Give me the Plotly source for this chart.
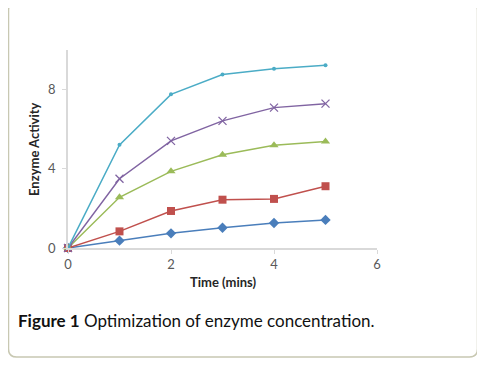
import plotly.graph_objects as go

time_mins = [0, 1, 2, 3, 4, 5]
series_names = ["Series 1", "Series 2", "Series 3", "Series 4", "Series 5"]
s1 = [0, 0.37, 0.74, 1.02, 1.26, 1.42]
s2 = [0, 0.84, 1.87, 2.44, 2.48, 3.12]
s3 = [0, 2.56, 3.87, 4.71, 5.19, 5.38]
s4 = [0, 3.50, 5.41, 6.42, 7.09, 7.29]
s5 = [0, 5.21, 7.76, 8.76, 9.05, 9.23]
x_ticks = [0, 2, 4, 6]
y_ticks = [0, 4, 8]

colors = ["#4A7EBB", "#C0504D", "#9BBB59", "#8064A2", "#4BACC6"]
markers = [
    dict(symbol="diamond", size=8),
    dict(symbol="square", size=8),
    dict(symbol="triangle-up", size=8),
    dict(symbol="x-thin-open", size=8, line=dict(width=1.3)),
    dict(symbol="circle", size=4),
]

fig = go.Figure()
for name, ys, c, m in zip(series_names, [s1, s2, s3, s4, s5], colors, markers):
    mk = dict(color=c, **m)
    if "line" in mk:
        mk["line"] = dict(color=c, width=m["line"]["width"])
    fig.add_trace(go.Scatter(x=time_mins, y=ys, mode="lines+markers", name=name,
                             line=dict(color=c, width=1.5), marker=mk,
                             cliponaxis=False))

# page has an 8px body margin; work in page pixel coordinates and offset
OFF = 8
W, H = 485 - OFF, 365 - OFF
L = 68 - OFF
T = 50 - OFF
R = W - (377 - OFF)
B = H - (248 - OFF)
pw, ph = W - L - R, H - T - B

def px(x):
    return (x - OFF - L) / pw

def py(y):
    return (H - B - (y - OFF)) / ph

# rounded border box (page pixel coords)
x0, x1, y0, y1, r = 8.5, 477.5, 2.5, 357, 8
path = (f"M {px(x0+r)},{py(y0)} L {px(x1-r)},{py(y0)} Q {px(x1)},{py(y0)} {px(x1)},{py(y0+r)} "
        f"L {px(x1)},{py(y1-r)} Q {px(x1)},{py(y1)} {px(x1-r)},{py(y1)} "
        f"L {px(x0+r)},{py(y1)} Q {px(x0)},{py(y1)} {px(x0)},{py(y1-r)} "
        f"L {px(x0)},{py(y0+r)} Q {px(x0)},{py(y0)} {px(x0+r)},{py(y0)} Z")

font_fam = "Lato, 'Open Sans', sans-serif"
fig.update_layout(
    width=W, height=H,
    margin=dict(l=L, r=R, t=T, b=B),
    paper_bgcolor="white", plot_bgcolor="white",
    showlegend=False,
    font=dict(family=font_fam, color="#595959", size=12),
    shapes=[dict(type="path", path=path, xref="paper", yref="paper",
                 line=dict(color="#C8C8B2", width=1.5), layer="below")],
    annotations=[
        dict(text="<b>Time (mins)</b>", x=px(223), y=py(282), xref="paper", yref="paper",
             xanchor="center", yanchor="middle",
             showarrow=False, font=dict(size=13, color="#262626", family=font_fam)),
        dict(text="<b>Enzyme Activity</b>", x=px(34), y=py(149), xref="paper", yref="paper",
             xanchor="center", yanchor="middle",
             showarrow=False, textangle=-90, font=dict(size=13, color="#262626", family=font_fam)),
        dict(text="<b>Figure 1</b> Optimization of enzyme concentration.", x=px(16), y=py(320),
             xref="paper", yref="paper", xanchor="left", yanchor="middle", showarrow=False,
             font=dict(size=17, color="#111111", family=font_fam)),
    ],
)
fig.update_xaxes(range=[0, 6], tickvals=x_ticks, showgrid=False, zeroline=False,
                 showline=True, linecolor="#D9D9D9", linewidth=1.5,
                 ticks="outside", ticklen=4, tickcolor="#D9D9D9", tickfont=dict(size=13, color="#595959"))
fig.update_yaxes(range=[0, 10], tickvals=y_ticks, showgrid=False, zeroline=False,
                 showline=True, linecolor="#D9D9D9", linewidth=1.5,
                 ticks="outside", ticklen=4, tickcolor="#D9D9D9", ticklabelstandoff=4,
                 tickfont=dict(size=13, color="#595959"))

fig.write_html("out.html")
